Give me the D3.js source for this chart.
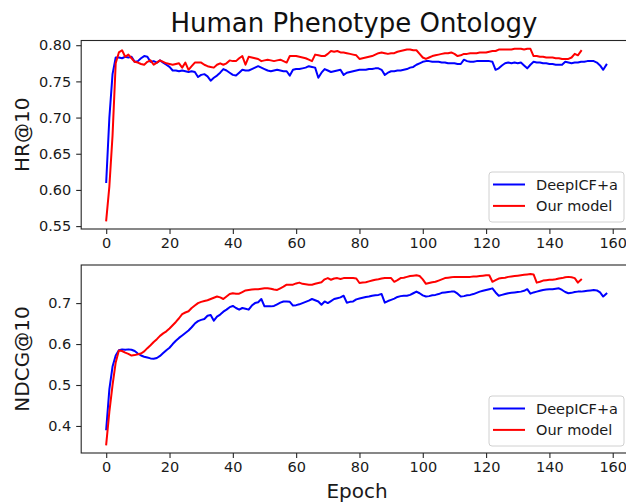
<!DOCTYPE html>
<html><head><meta charset="utf-8">
<script src="https://cdn.jsdelivr.net/npm/d3@7"></script>
<style>
html,body{margin:0;padding:0;background:#fff;}
svg{display:block;font-family:"DejaVu Sans",sans-serif;}
</style></head>
<body><svg id="chart" width="626" height="502"></svg>
<script>
const title = "Human Phenotype Ontology";
const seriesNames = ["DeepICF+a", "Our model"];
const xLabel = "Epoch";
const yLabels = ["HR@10", "NDCG@10"];
const xTicks = [0,20,40,60,80,100,120,140,160];
const hrTicks = [0.55,0.60,0.65,0.70,0.75,0.80];
const ndcgTicks = [0.4,0.5,0.6,0.7];

const hrDeep = [0.611,0.700,0.760,0.783,0.783,0.782,0.784,0.783,0.784,0.777,
0.778,0.782,0.785,0.784,0.777,0.778,0.776,0.779,0.776,0.773,
0.770,0.765,0.765,0.764,0.765,0.764,0.763,0.764,0.763,0.756,
0.759,0.760,0.757,0.751,0.755,0.758,0.762,0.767,0.765,0.762,
0.759,0.758,0.762,0.766,0.765,0.765,0.767,0.769,0.771,0.769,
0.767,0.765,0.764,0.765,0.766,0.765,0.764,0.764,0.758,0.766,
0.767,0.767,0.768,0.769,0.771,0.770,0.769,0.755,0.762,0.767,
0.765,0.763,0.764,0.765,0.766,0.759,0.762,0.763,0.764,0.765,
0.766,0.766,0.766,0.767,0.767,0.768,0.768,0.766,0.759,0.762,
0.764,0.764,0.765,0.765,0.766,0.767,0.769,0.770,0.773,0.775,
0.777,0.778,0.778,0.777,0.777,0.777,0.776,0.776,0.775,0.775,
0.775,0.774,0.774,0.780,0.778,0.777,0.777,0.778,0.778,0.778,
0.778,0.778,0.777,0.766,0.768,0.772,0.775,0.776,0.775,0.776,
0.775,0.776,0.772,0.768,0.773,0.777,0.776,0.776,0.775,0.775,
0.774,0.774,0.773,0.773,0.773,0.777,0.776,0.775,0.776,0.776,
0.777,0.777,0.778,0.778,0.778,0.776,0.772,0.766,0.773];

const hrOurs = [0.558,0.605,0.675,0.775,0.790,0.793,0.784,0.787,0.782,0.777,
0.776,0.774,0.773,0.777,0.779,0.773,0.776,0.779,0.777,0.775,
0.774,0.773,0.774,0.775,0.769,0.776,0.766,0.771,0.776,0.776,
0.776,0.773,0.771,0.770,0.769,0.773,0.775,0.773,0.775,0.779,
0.778,0.778,0.782,0.785,0.773,0.784,0.783,0.782,0.781,0.778,
0.779,0.780,0.779,0.778,0.779,0.780,0.778,0.776,0.785,0.785,
0.785,0.784,0.783,0.782,0.780,0.778,0.787,0.786,0.785,0.785,
0.788,0.792,0.791,0.792,0.790,0.790,0.789,0.788,0.787,0.786,
0.781,0.782,0.783,0.784,0.785,0.787,0.789,0.790,0.789,0.788,
0.789,0.789,0.791,0.792,0.793,0.794,0.794,0.793,0.793,0.788,
0.783,0.781,0.783,0.785,0.786,0.787,0.788,0.789,0.789,0.790,
0.788,0.785,0.786,0.788,0.788,0.789,0.789,0.789,0.790,0.790,
0.790,0.791,0.792,0.792,0.794,0.794,0.794,0.794,0.794,0.795,
0.795,0.795,0.794,0.795,0.795,0.785,0.785,0.784,0.784,0.783,
0.783,0.783,0.782,0.782,0.781,0.781,0.781,0.783,0.788,0.786,
0.792];

const ndcgDeep = [0.392,0.490,0.545,0.572,0.585,0.587,0.586,0.587,0.586,0.583,
0.577,0.572,0.569,0.567,0.565,0.564,0.566,0.571,0.578,0.585,
0.591,0.600,0.608,0.615,0.621,0.627,0.633,0.641,0.650,0.656,
0.659,0.661,0.669,0.671,0.657,0.667,0.672,0.679,0.684,0.690,
0.693,0.688,0.684,0.688,0.686,0.684,0.694,0.700,0.702,0.710,
0.692,0.692,0.692,0.693,0.697,0.701,0.704,0.704,0.703,0.694,
0.695,0.697,0.700,0.703,0.706,0.710,0.707,0.704,0.696,0.704,
0.700,0.705,0.710,0.712,0.714,0.718,0.701,0.703,0.704,0.709,
0.711,0.713,0.715,0.716,0.718,0.719,0.720,0.722,0.701,0.705,
0.708,0.711,0.715,0.717,0.718,0.718,0.720,0.724,0.728,0.724,
0.719,0.716,0.717,0.719,0.720,0.722,0.725,0.726,0.727,0.728,
0.728,0.723,0.716,0.717,0.719,0.720,0.722,0.725,0.728,0.730,
0.732,0.734,0.736,0.726,0.718,0.720,0.722,0.724,0.725,0.726,
0.727,0.728,0.730,0.734,0.723,0.726,0.728,0.730,0.732,0.733,
0.734,0.734,0.735,0.736,0.732,0.727,0.724,0.725,0.727,0.728,
0.728,0.729,0.730,0.731,0.732,0.731,0.726,0.716,0.723];

const ndcgOurs = [0.355,0.435,0.500,0.555,0.584,0.583,0.579,0.576,0.572,0.573,
0.575,0.577,0.582,0.590,0.597,0.605,0.612,0.620,0.626,0.631,
0.638,0.646,0.654,0.663,0.673,0.677,0.680,0.688,0.694,0.700,
0.703,0.705,0.707,0.710,0.713,0.716,0.714,0.710,0.716,0.722,
0.724,0.723,0.723,0.727,0.731,0.732,0.733,0.734,0.734,0.735,
0.736,0.736,0.735,0.733,0.732,0.736,0.740,0.745,0.745,0.745,
0.748,0.750,0.747,0.746,0.745,0.745,0.747,0.749,0.751,0.758,
0.761,0.757,0.760,0.761,0.759,0.761,0.761,0.761,0.761,0.760,
0.749,0.750,0.751,0.753,0.755,0.757,0.758,0.760,0.761,0.761,
0.761,0.752,0.756,0.761,0.762,0.764,0.766,0.767,0.768,0.766,
0.758,0.747,0.749,0.751,0.752,0.755,0.758,0.761,0.762,0.763,
0.764,0.764,0.764,0.764,0.764,0.764,0.765,0.765,0.766,0.767,
0.768,0.768,0.752,0.756,0.760,0.761,0.762,0.764,0.765,0.766,
0.767,0.768,0.769,0.770,0.771,0.770,0.750,0.752,0.755,0.756,
0.757,0.757,0.758,0.760,0.761,0.763,0.764,0.763,0.761,0.750,
0.757];

const colors = ["#0000ff", "#ff0000"];
const svg = d3.select("#chart");
const TEXT = "#1a1a1a";

const x = d3.scaleLinear().domain([-7.9, 165.9]).range([81.2, 631.4]);

const panels = [
  {data:[hrDeep, hrOurs], y:d3.scaleLinear().domain([0.546,0.8065]).range([229,40.5]),
   ticks:hrTicks, fmt:d3.format(".2f"), label:yLabels[0]},
  {data:[ndcgDeep, ndcgOurs], y:d3.scaleLinear().domain([0.334,0.793]).range([453,265]),
   ticks:ndcgTicks, fmt:d3.format(".1f"), label:yLabels[1]}
];

panels.forEach(p => {
  const [y0, y1] = p.y.range();
  const g = svg.append("g");
  // lines
  p.data.forEach((arr, i) => {
    const line = d3.line().x((d, j) => x(j)).y(d => p.y(d));
    g.append("path").datum(arr).attr("d", line)
      .attr("fill", "none").attr("stroke", colors[i])
      .attr("stroke-width", 2).attr("stroke-linejoin", "round").attr("stroke-linecap", "square");
  });
  // frame
  g.append("rect").attr("x", x.range()[0]).attr("y", y1)
    .attr("width", x.range()[1] - x.range()[0]).attr("height", y0 - y1)
    .attr("fill", "none").attr("stroke", "#262626").attr("stroke-width", 1.1);
  // x axis
  const xa = g.append("g").attr("transform", `translate(0,${y0})`)
    .call(d3.axisBottom(x).tickValues(xTicks).tickSize(5).tickPadding(4).tickSizeOuter(0));
  xa.select(".domain").remove();
  xa.selectAll("line").attr("stroke", "#262626").attr("stroke-width", 1.1);
  xa.selectAll("text").attr("font-size", "14.5px").attr("fill", TEXT)
    .attr("font-family", "DejaVu Sans");
  // y axis
  const ya = g.append("g").attr("transform", `translate(${x.range()[0]},0)`)
    .call(d3.axisLeft(p.y).tickValues(p.ticks).tickFormat(p.fmt).tickSize(5).tickPadding(5).tickSizeOuter(0));
  ya.select(".domain").remove();
  ya.selectAll("line").attr("stroke", "#262626").attr("stroke-width", 1.1);
  ya.selectAll("text").attr("font-size", "14.5px").attr("fill", TEXT)
    .attr("font-family", "DejaVu Sans");
  // y label
  svg.append("text").attr("transform", `translate(29,${(y0 + y1) / 2}) rotate(-90)`)
    .attr("text-anchor", "middle").attr("font-size", "20px").attr("fill", TEXT).text(p.label);
  // legend
  const lb = y0 - 7, lt = lb - 50, ll = 489, lr = 624;
  const lg = g.append("g");
  lg.append("rect").attr("x", ll).attr("y", lt).attr("width", lr - ll).attr("height", lb - lt)
    .attr("rx", 3).attr("fill", "#fff").attr("fill-opacity", 0.8)
    .attr("stroke", "#d0d0d0").attr("stroke-width", 1);
  seriesNames.forEach((n, i) => {
    const yy = lt + 12.5 + i * 21.4;
    lg.append("line").attr("x1", 493).attr("x2", 525).attr("y1", yy).attr("y2", yy)
      .attr("stroke", colors[i]).attr("stroke-width", 2);
    lg.append("text").attr("x", 536).attr("y", yy).attr("dy", "0.36em")
      .attr("font-size", "14.5px").attr("fill", TEXT).text(n);
  });
});

svg.append("text").attr("x", 354).attr("y", 32).attr("text-anchor", "middle")
  .attr("font-size", "26px").attr("fill", "#111").text(title);
svg.append("text").attr("x", 357).attr("y", 498).attr("text-anchor", "middle")
  .attr("font-size", "20px").attr("fill", TEXT).text(xLabel);
</script>
</body></html>
